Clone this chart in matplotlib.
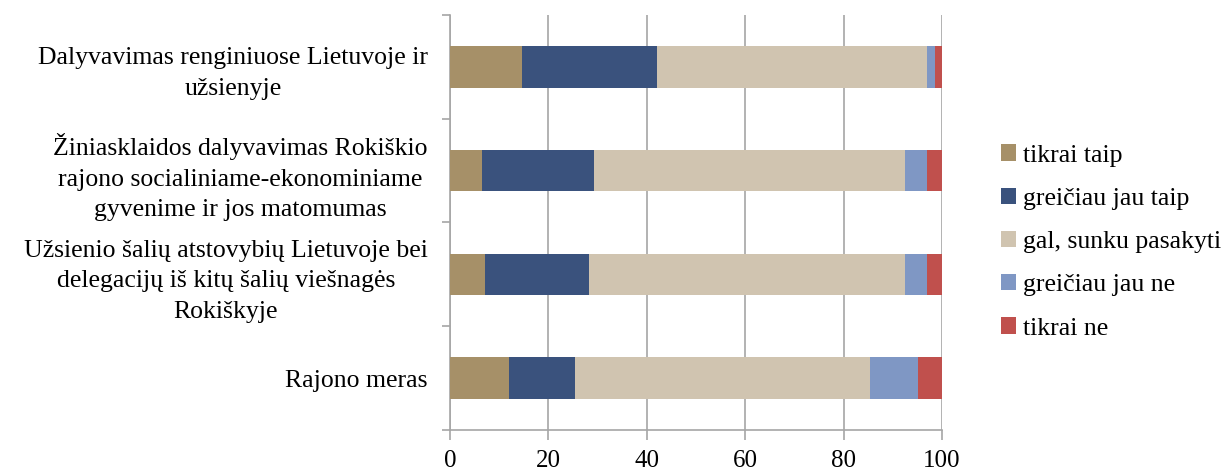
import numpy as np
import matplotlib
matplotlib.use("Agg")
from matplotlib import pyplot as plt
from matplotlib.ticker import FixedLocator

plt.rcParams['font.family'] = ['Liberation Serif', 'DejaVu Serif']

# categories, top to bottom
categories = [
    "Dalyvavimas renginiuose Lietuvoje ir\nužsienyje",
    "Žiniasklaidos dalyvavimas Rokiškio\nrajono socialiniame-ekonominiame\ngyvenime ir jos matomumas",
    "Užsienio šalių atstovybių Lietuvoje bei\ndelegacijų iš kitų šalių viešnagės\nRokiškyje",
    "Rajono meras",
]

series_names = ["tikrai taip", "greičiau jau taip", "gal, sunku pasakyti",
                "greičiau jau ne", "tikrai ne"]

tikrai_taip = [14.7, 6.6, 7.2, 11.9]
greiciau_taip = [27.4, 22.7, 21.1, 13.5]
gal_sunku = [54.9, 63.2, 64.2, 59.9]
greiciau_ne = [1.6, 4.5, 4.5, 9.9]
tikrai_ne = [1.4, 3.0, 3.0, 4.8]

colors = ["#A69068", "#3A527D", "#D0C4B0", "#7F97C4", "#C0504D"]

series = [tikrai_taip, greiciau_taip, gal_sunku, greiciau_ne, tikrai_ne]

fig = plt.figure(figsize=(12.32, 4.73), dpi=100)
ax = fig.add_axes([450 / 1232, 1 - 430 / 473, 492 / 1232, 415 / 473])

# stacked horizontal bars
y = np.arange(len(categories))
left = np.zeros(len(categories))
for name, vals, col in zip(series_names, series, colors):
    ax.barh(y, vals, left=left, height=0.4, color=col, label=name, zorder=3)
    left += np.array(vals)

ax.set_xlim(0, 100)
ax.set_ylim(len(categories) - 0.5, -0.5)
ax.set_xticks([0, 20, 40, 60, 80, 100])
ax.set_yticks(y)
ax.set_yticklabels(categories, ha='right', multialignment='center', linespacing=1.5)
ax.yaxis.set_minor_locator(FixedLocator(np.arange(-0.5, len(categories), 1.0)))

ax.grid(axis='x', color='#a6a6a6', linewidth=1.2, zorder=0)
for s in ['top', 'right']:
    ax.spines[s].set_visible(False)
for s in ['left', 'bottom']:
    ax.spines[s].set_color('#a6a6a6')
    ax.spines[s].set_linewidth(1.2)

ax.tick_params(axis='y', which='major', length=0, pad=16, labelsize=18.5)
ax.tick_params(axis='y', which='minor', length=6, color='#a6a6a6', width=1.2)
ax.tick_params(axis='x', length=7.2, color='#a6a6a6', width=1.2, labelsize=18, pad=7)

fig.legend(loc='center left', bbox_to_anchor=(1001 / 1232, 1 - 242 / 473),
           frameon=False, fontsize=18.5, handlelength=0.6, handleheight=0.6,
           handletextpad=0.25, labelspacing=0.82, borderpad=0, borderaxespad=0)

fig.savefig("out.png", dpi=100)
